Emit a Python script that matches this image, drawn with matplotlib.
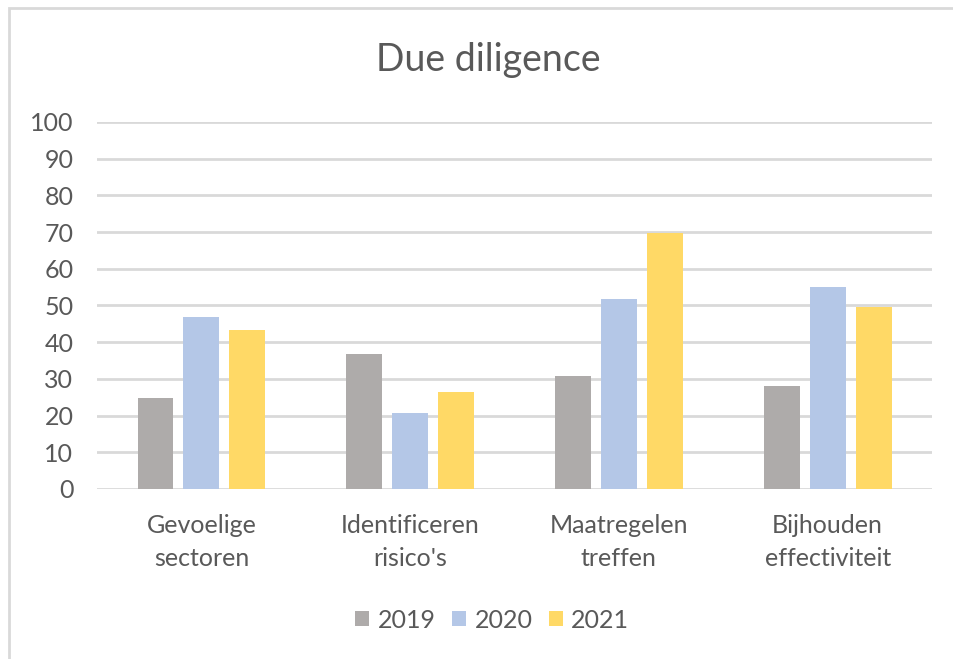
import numpy as np
import matplotlib.pyplot as plt
from matplotlib.patches import Rectangle

plt.rcParams['font.family'] = ['Lato', 'DejaVu Sans']

# data
categories = ['Gevoelige\nsectoren', "Identificeren\nrisico's", 'Maatregelen\ntreffen', 'Bijhouden\neffectiviteit']
years = ['2019', '2020', '2021']
v2019 = [24.8, 36.8, 30.8, 28.0]
v2020 = [46.8, 20.7, 51.7, 55.0]
v2021 = [43.2, 26.3, 69.8, 49.7]
yticks = list(range(0, 101, 10))

colors = ['#AEABAA', '#B4C7E7', '#FFD966']
text_col = '#595959'

fig = plt.figure(figsize=(9.54, 6.59), dpi=100)
ax = fig.add_axes([0.1017, 0.258, 0.8753, 0.557])

# chart border (cut off at right and bottom)
fig.patches.append(Rectangle((9 / 954, -0.1), 1.2, 1 - 8 / 659 + 0.1, transform=fig.transFigure,
                             fill=False, edgecolor='#D9D9D9', linewidth=2))

x = np.arange(len(categories))
step = 0.22
width = 0.172
for i, (vals, yr) in enumerate(zip([v2019, v2020, v2021], years)):
    ax.bar(x + (i - 1) * step, vals, width, color=colors[i], label=yr, zorder=3)

ax.set_xlim(-0.5, len(categories) - 0.5)
ax.set_ylim(0, 100)
ax.set_yticks(yticks)
ax.set_xticks(x)
ax.set_xticklabels(categories, linespacing=1.55)
ax.tick_params(axis='both', length=0, labelsize=18, labelcolor=text_col)
ax.tick_params(axis='y', pad=17)
ax.tick_params(axis='x', pad=18)
ax.grid(axis='y', color='#D9D9D9', linewidth=2, zorder=0)
for s in ax.spines.values():
    s.set_visible(False)

fig.text(488 / 954, 1 - 60 / 659, 'Due diligence', fontsize=27, color=text_col,
         ha='center', va='center')

fig.legend(loc='center', bbox_to_anchor=(0.516, 0.059), ncol=3, frameon=False,
           fontsize=18, labelcolor=text_col, handlelength=0.55, handleheight=0.55,
           handletextpad=0.35, columnspacing=0.65)

fig.savefig('out.png', dpi=100)
